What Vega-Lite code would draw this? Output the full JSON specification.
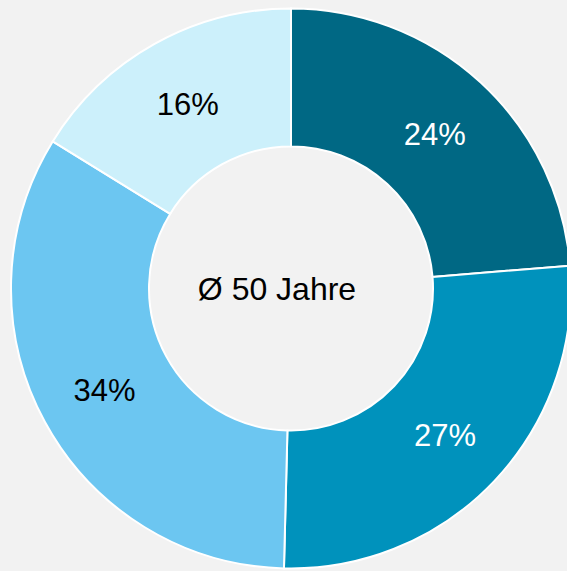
{
  "$schema": "https://vega.github.io/schema/vega-lite/v6.json",
  "width": 582,
  "height": 577,
  "padding": 0,
  "autosize": {"type": "none"},
  "background": "#f2f2f2",
  "config": {"view": {"stroke": null}},
  "layer": [
    {
      "data": {"values": [
        {"group": "A", "order": 1, "value": 23.7, "label": "24%"},
        {"group": "B", "order": 2, "value": 26.7, "label": "27%"},
        {"group": "C", "order": 3, "value": 33.4, "label": "34%"},
        {"group": "D", "order": 4, "value": 16.2, "label": "16%"}
      ]},
      "encoding": {
        "theta": {"field": "value", "type": "quantitative", "stack": true},
        "order": {"field": "order", "type": "quantitative"}
      },
      "layer": [
        {"mark": {"type": "arc", "outerRadius": 280, "innerRadius": 142, "stroke": "white", "strokeWidth": 2},
          "encoding": {
            "color": {"field": "group", "type": "nominal", "legend": null,
              "scale": {"domain": ["A", "B", "C", "D"], "range": ["#006884", "#0092bc", "#6cc6f1", "#ccf0fb"]}}
          }
        },
        {"mark": {"type": "text", "radius": 212, "font": "Liberation Sans", "fontSize": 31, "align": "center", "baseline": "middle", "dy": 3},
          "encoding": {
            "text": {"field": "label"},
            "color": {"condition": {"test": "datum.order <= 2", "value": "#ffffff"}, "value": "#000000"}
          }
        }
      ]
    },
    {
      "data": {"values": [{"center": "Ø 50 Jahre"}]},
      "mark": {"type": "text", "font": "Liberation Sans", "fontSize": 32, "align": "center", "baseline": "middle", "dx": -14, "dy": 1, "color": "#000000"},
      "encoding": {"text": {"field": "center"}}
    }
  ]
}
